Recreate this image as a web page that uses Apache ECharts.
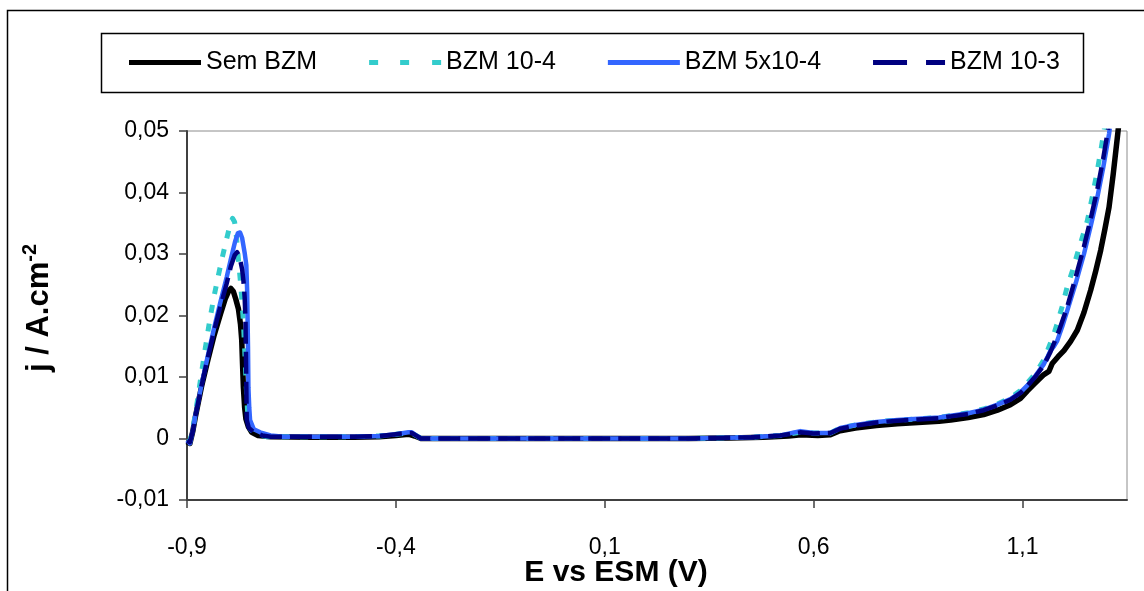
<!DOCTYPE html>
<html>
<head>
<meta charset="utf-8">
<script src="https://cdn.jsdelivr.net/npm/echarts@6/dist/echarts.min.js"></script>
<style>
html,body{margin:0;padding:0;background:#fff;}
#chart{width:1144px;height:591px;}
</style>
</head>
<body>
<div id="chart"></div>
<script>
// ---- Data (E in V, j in A/cm2) ----
const seriesNames = ['Sem BZM', 'BZM 10-4', 'BZM 5x10-4', 'BZM 10-3'];

const xTickValues = [-0.9, -0.4, 0.1, 0.6, 1.1];
const xTickLabels = ['-0,9', '-0,4', '0,1', '0,6', '1,1'];
const yTickValues = [-0.01, 0, 0.01, 0.02, 0.03, 0.04, 0.05];
const yTickLabels = ['-0,01', '0', '0,01', '0,02', '0,03', '0,04', '0,05'];

const semBZM = [
  [-0.900,-0.0005],[-0.893,-0.0008],[-0.886,0.0012],[-0.880,0.0035],[-0.865,0.0085],[-0.850,0.0128],
  [-0.835,0.0168],[-0.820,0.0202],[-0.808,0.0228],[-0.800,0.0240],[-0.795,0.0244],[-0.789,0.0239],
  [-0.783,0.0226],[-0.777,0.0211],[-0.772,0.0186],[-0.769,0.0160],[-0.767,0.0120],[-0.765,0.0083],
  [-0.762,0.0050],[-0.759,0.0032],[-0.753,0.0019],[-0.745,0.0010],[-0.730,0.0005],[-0.700,0.0003],
  [-0.600,0.0002],[-0.500,0.0002],[-0.440,0.0003],[-0.400,0.0005],[-0.370,0.0007],[-0.355,0.0004],
  [-0.340,0.0000],[-0.300,0.0000],[0.000,0.0000],[0.300,0.0000],[0.400,0.0001],[0.480,0.0002],
  [0.540,0.0004],[0.570,0.0006],[0.610,0.0005],[0.640,0.0006],[0.660,0.0012],[0.700,0.0017],
  [0.750,0.0021],[0.800,0.0024],[0.850,0.0026],[0.900,0.0028],[0.928,0.0030],[0.970,0.0034],
  [1.007,0.0039],[1.040,0.0046],[1.071,0.0055],[1.095,0.0065],[1.111,0.0077],[1.130,0.0090],
  [1.151,0.0104],[1.163,0.0109],[1.171,0.0122],[1.185,0.0133],[1.199,0.0143],[1.215,0.0158],
  [1.231,0.0176],[1.247,0.0205],[1.263,0.0241],[1.275,0.0272],[1.287,0.0306],[1.297,0.0340],
  [1.307,0.0376],[1.317,0.0430],[1.327,0.0490],[1.331,0.0515]
];

const bzm10_4 = [
  [-0.900,-0.0005],[-0.893,-0.0004],[-0.885,0.0020],[-0.875,0.0062],[-0.865,0.0108],[-0.855,0.0152],
  [-0.845,0.0195],[-0.835,0.0232],[-0.825,0.0265],[-0.815,0.0296],[-0.805,0.0325],[-0.797,0.0347],
  [-0.791,0.0358],[-0.786,0.0352],[-0.782,0.0330],[-0.778,0.0300],[-0.771,0.0246],[-0.765,0.0190],
  [-0.761,0.0130],[-0.758,0.0083],[-0.754,0.0030],[-0.748,0.0015],[-0.735,0.0007],[-0.710,0.0003],
  [-0.600,0.0003],[-0.500,0.0003],[-0.440,0.0004],[-0.400,0.0007],[-0.370,0.0009],[-0.362,0.0009],
  [-0.352,0.0005],[-0.340,0.0000],[-0.300,0.0000],[0.000,0.0000],[0.300,0.0000],[0.370,0.0001],
  [0.450,0.0002],[0.520,0.0005],[0.568,0.0010],[0.600,0.0009],[0.640,0.0009],[0.664,0.0017],
  [0.700,0.0022],[0.750,0.0027],[0.800,0.0030],[0.850,0.0032],[0.900,0.0034],[0.928,0.0037],
  [0.970,0.0042],[1.007,0.0048],[1.040,0.0056],[1.071,0.0066],[1.095,0.0078],[1.111,0.0090],
  [1.130,0.0105],[1.151,0.0128],[1.165,0.0152],[1.175,0.0170],[1.183,0.0187],[1.195,0.0215],
  [1.207,0.0247],[1.219,0.0272],[1.231,0.0300],[1.243,0.0327],[1.255,0.0354],[1.267,0.0393],
  [1.279,0.0436],[1.289,0.0475],[1.295,0.0500],[1.298,0.0515]
];

const bzm5x10_4 = [
  [-0.900,-0.0003],[-0.893,-0.0008],[-0.886,0.0013],[-0.880,0.0037],[-0.865,0.0088],[-0.850,0.0135],
  [-0.835,0.0180],[-0.820,0.0222],[-0.805,0.0262],[-0.795,0.0292],[-0.785,0.0320],[-0.778,0.0334],
  [-0.773,0.0335],[-0.768,0.0326],[-0.762,0.0302],[-0.758,0.0282],[-0.756,0.0240],[-0.754,0.0150],
  [-0.753,0.0083],[-0.751,0.0050],[-0.749,0.0030],[-0.740,0.0015],[-0.725,0.0010],[-0.700,0.0005],
  [-0.669,0.0003],[-0.600,0.0003],[-0.500,0.0003],[-0.440,0.0004],[-0.400,0.0007],[-0.370,0.0010],
  [-0.362,0.0010],[-0.352,0.0005],[-0.340,0.0000],[-0.300,0.0000],[0.000,0.0000],[0.300,0.0000],
  [0.370,0.0001],[0.450,0.0002],[0.520,0.0005],[0.568,0.0012],[0.600,0.0009],[0.640,0.0009],
  [0.664,0.0017],[0.700,0.0022],[0.750,0.0027],[0.800,0.0030],[0.850,0.0032],[0.900,0.0034],
  [0.928,0.0037],[0.970,0.0041],[1.007,0.0047],[1.040,0.0055],[1.071,0.0064],[1.095,0.0075],
  [1.111,0.0086],[1.130,0.0101],[1.151,0.0121],[1.160,0.0133],[1.167,0.0143],[1.175,0.0150],
  [1.183,0.0159],[1.195,0.0182],[1.207,0.0208],[1.227,0.0252],[1.247,0.0300],[1.263,0.0345],
  [1.279,0.0392],[1.293,0.0440],[1.307,0.0495],[1.311,0.0515]
];

const bzm10_3 = [
  [-0.900,-0.0004],[-0.893,-0.0006],[-0.886,0.0012],[-0.880,0.0036],[-0.865,0.0086],[-0.850,0.0132],
  [-0.835,0.0175],[-0.820,0.0215],[-0.805,0.0252],[-0.795,0.0280],[-0.786,0.0298],[-0.780,0.0303],
  [-0.774,0.0295],[-0.768,0.0275],[-0.765,0.0257],[-0.762,0.0230],[-0.760,0.0192],[-0.759,0.0140],
  [-0.758,0.0083],[-0.757,0.0030],[-0.752,0.0017],[-0.740,0.0010],[-0.720,0.0005],[-0.700,0.0003],
  [-0.600,0.0003],[-0.500,0.0003],[-0.440,0.0004],[-0.400,0.0007],[-0.370,0.0009],[-0.362,0.0009],
  [-0.352,0.0005],[-0.340,0.0000],[-0.300,0.0000],[0.000,0.0000],[0.300,0.0000],[0.370,0.0001],
  [0.450,0.0002],[0.520,0.0005],[0.568,0.0010],[0.600,0.0008],[0.640,0.0009],[0.664,0.0016],
  [0.700,0.0021],[0.750,0.0026],[0.800,0.0029],[0.850,0.0031],[0.900,0.0033],[0.928,0.0036],
  [0.970,0.0040],[1.007,0.0046],[1.040,0.0054],[1.071,0.0063],[1.095,0.0074],[1.111,0.0085],
  [1.130,0.0100],[1.151,0.0119],[1.167,0.0141],[1.187,0.0175],[1.207,0.0214],[1.227,0.0262],
  [1.247,0.0312],[1.263,0.0357],[1.279,0.0405],[1.293,0.0455],[1.304,0.0500],[1.308,0.0515]
];

const FONT = "'Liberation Sans', Arial, sans-serif";
const COLORS = ['#000000', '#33CCCC', '#3366FF', '#000080'];

// legend sample shapes (72 x 5 frame)
const ICON_SOLID = 'path://M0,0H72V5H0Z';
const ICON_DOTS = 'path://M0,0H9V5H0Z M31,0H40V5H31Z M63,0H72V5H63Z';
const ICON_DASH = 'path://M0,0H34V5H0Z M53,0H72V5H53Z';
const legendIcons = [ICON_SOLID, ICON_DOTS, ICON_SOLID, ICON_DASH];

function lookup(values, labels, v) {
  for (let i = 0; i < values.length; i++) {
    if (Math.abs(values[i] - v) < 1e-6) return labels[i];
  }
  return '';
}

const chart = echarts.init(document.getElementById('chart'), null, {renderer: 'canvas'});

const lineSeries = (name, data, color, width, type) => ({
  name: name,
  type: 'line',
  data: data,
  symbol: 'none',
  showSymbol: false,
  smooth: false,
  clip: true,
  animation: false,
  lineStyle: {color: color, width: width, type: type, join: 'round'},
  itemStyle: {color: color}
});

chart.setOption({
  backgroundColor: '#fff',
  animation: false,
  grid: {
    left: 187, top: 131, right: 17, bottom: 91,
    show: true, borderColor: '#8c8c8c', borderWidth: 1, backgroundColor: 'transparent'
  },
  legend: {
    left: 129, top: 50,
    itemWidth: 72, itemHeight: 5, itemGap: 52, padding: 0,
    symbolKeepAspect: false,
    textStyle: {fontFamily: FONT, fontSize: 25, color: '#000'},
    data: seriesNames.map((n, i) => ({name: n, icon: legendIcons[i], itemStyle: {color: COLORS[i]}}))
  },
  xAxis: {
    type: 'value', min: -0.9, max: 1.35,
    axisLine: {show: true, onZero: false, lineStyle: {color: '#404040', width: 2}},
    axisTick: {show: true, inside: false, length: 8, customValues: xTickValues, lineStyle: {color: '#404040', width: 1.5}},
    axisLabel: {
      customValues: xTickValues, margin: 36,
      fontFamily: FONT, fontSize: 23, color: '#000',
      formatter: v => lookup(xTickValues, xTickLabels, v)
    },
    splitLine: {show: false}
  },
  yAxis: {
    type: 'value', min: -0.01, max: 0.05,
    axisLine: {show: true, onZero: false, lineStyle: {color: '#404040', width: 2}},
    axisTick: {show: true, inside: false, length: 8, customValues: yTickValues, lineStyle: {color: '#404040', width: 1.5}},
    axisLabel: {
      customValues: yTickValues, margin: 18,
      fontFamily: FONT, fontSize: 23, color: '#000',
      formatter: v => lookup(yTickValues, yTickLabels, v)
    },
    splitLine: {show: false}
  },
  graphic: [
    {type: 'rect', silent: true, z: -10,
     shape: {x: 7.5, y: 10.5, width: 1300, height: 700},
     style: {fill: 'none', stroke: '#000', lineWidth: 1.5}},
    {type: 'rect', silent: true, z: -9,
     shape: {x: 101.5, y: 33.5, width: 982, height: 59},
     style: {fill: '#fff', stroke: '#000', lineWidth: 1.5}},
    {type: 'text', silent: true, x: 616, y: 573,
     style: {text: 'E vs ESM (V)', font: "bold 30px 'Liberation Sans', Arial, sans-serif",
             fill: '#000', align: 'center', verticalAlign: 'middle'}},
    {type: 'text', silent: true, x: 39, y: 308, rotation: Math.PI / 2,
     style: {text: '{a|j / A.cm}{b|-2}', align: 'center', verticalAlign: 'middle',
             rich: {
               a: {fontFamily: FONT, fontWeight: 'bold', fontSize: 31, lineHeight: 38, fill: '#000', color: '#000'},
               b: {fontFamily: FONT, fontWeight: 'bold', fontSize: 20, lineHeight: 38, verticalAlign: 'top', fill: '#000', color: '#000'}
             }}}
  ],
  series: [
    lineSeries(seriesNames[0], semBZM, COLORS[0], 5.5, 'solid'),
    lineSeries(seriesNames[1], bzm10_4, COLORS[1], 5, [8, 11]),
    lineSeries(seriesNames[2], bzm5x10_4, COLORS[2], 4.5, 'solid'),
    lineSeries(seriesNames[3], bzm10_3, COLORS[3], 4.5, [22, 8])
  ]
});
</script>
</body>
</html>
